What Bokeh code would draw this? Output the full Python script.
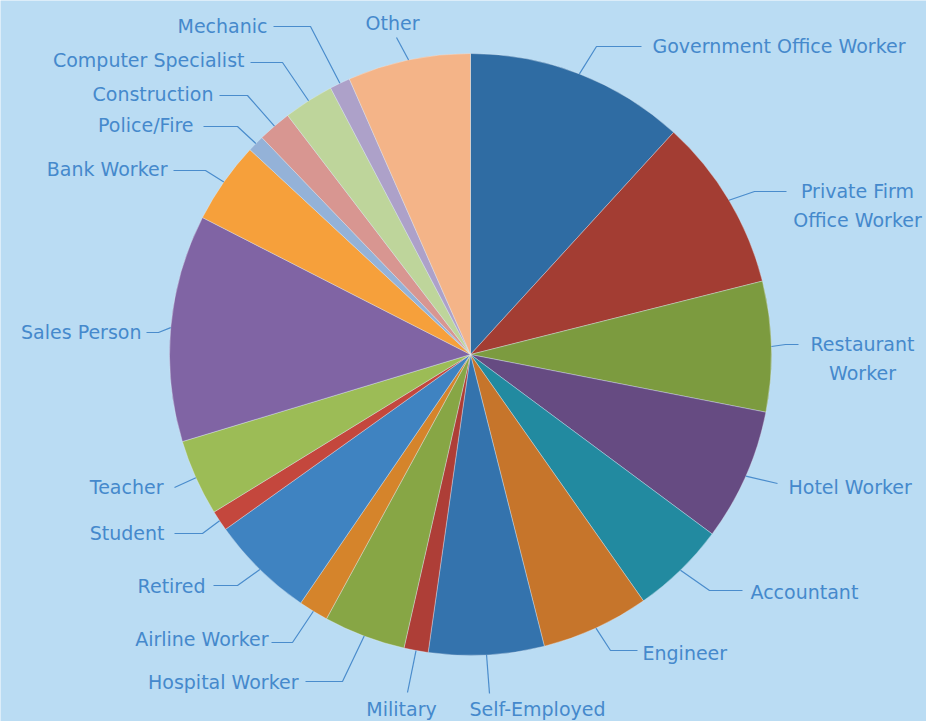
import math
from bokeh.plotting import figure
from bokeh.models import ColumnDataSource
from bokeh.embed import file_html
from bokeh.resources import INLINE
from bokeh.core.properties import value

# ---------------- data (clockwise from 12 o'clock) ----------------
categories = [
    "Government Office Worker", "Private Firm\nOffice Worker", "Restaurant\nWorker",
    "Hotel Worker", "Accountant", "Engineer", "Self-Employed", "Military",
    "Hospital Worker", "Airline Worker", "Retired", "Student", "Teacher",
    "Sales Person", "Bank Worker", "Police/Fire", "Construction",
    "Computer Specialist", "Mechanic", "Other",
]
shares = [11.8, 9.3, 7.0, 7.1, 5.1, 5.8, 6.2, 1.3, 4.4, 1.6,
          5.6, 1.1, 4.1, 12.2, 4.4, 0.9, 1.8, 2.7, 1.1, 6.6]
colors = [
    "#2f6ca3", "#a33d33", "#7c9b3f", "#664b82", "#228aa0", "#c6752b",
    "#3473ad", "#ae3e37", "#87a645", "#d5842b", "#3f83c1", "#c4473d",
    "#9cbc56", "#8064a4", "#f6a03b", "#94b2d8", "#d89691", "#bed59b",
    "#ada1c9", "#f4b488",
]

# ---------------- layout (picture pixel coordinates) ----------------
BG = "#badcf3"
TXT = "#4589cc"
LEADER = "#4a8ccc"
FONT = "DejaVu Sans"
FS = "19px"
LINE_STEP = 29
W, H = 926, 721
CX, CY, R = 470, 354, 301

leader_elbow = [(596, 46), (754, 191), (785, 344), (777, 483), (709, 590), (610, 650),
                (489, 693), (407, 692), (342, 681), (292, 642), (237, 585), (202, 533),
                (174, 487), (158, 332), (205, 170), (237, 126), (247, 95), (282, 62),
                (310, 26), (396, 37)]
leader_end = [(641, 46), (786, 191), (798, 344), (777, 483), (742, 590), (637, 650),
              (489, 693), (407, 692), (305, 681), (271, 642), (213, 585), (174, 533),
              (174, 487), (146, 332), (173, 170), (203, 126), (219, 95), (250, 62),
              (273, 26), (396, 37)]
label_pos = [(652, 45), (857, 205), (862, 358), (788, 486), (750, 591), (642, 652),
             (537, 708), (401, 708), (298, 681), (268, 638), (205, 585), (164, 532),
             (163, 486), (141, 331), (167, 168), (193, 124), (213, 93), (244, 59),
             (267, 25), (392, 22)]
label_align = ["left", "center", "center", "left", "left", "left",
               "center", "center", "right", "right", "right", "right",
               "right", "right", "right", "right", "right", "right",
               "right", "center"]


def Y(py):
    return H - py


p = figure(width=W, height=H, x_range=(0, W), y_range=(0, H),
           output_backend="svg", toolbar_location=None, min_border=0)
p.axis.visible = False
p.grid.visible = False
p.background_fill_color = BG
p.border_fill_color = BG
p.outline_line_color = None

# wedge angles
total = float(sum(shares))
starts, ends, mids = [], [], []
cum = 0.0
for s in shares:
    a0 = math.pi / 2 - 2 * math.pi * cum / total
    cum += s
    a1 = math.pi / 2 - 2 * math.pi * cum / total
    starts.append(a0)
    ends.append(a1)
    mids.append((a0 + a1) / 2)

src = ColumnDataSource(dict(start=starts, end=ends, color=colors, cat=categories))
p.wedge(x=CX, y=Y(CY), radius=R, radius_units="screen",
        start_angle="start", end_angle="end", direction="clock",
        fill_color="color", line_color="#e8f2fa", line_alpha=0.6, line_width=0.6,
        source=src)

# leader lines
xs, ys = [], []
for m, (ex, ey), (tx, ty) in zip(mids, leader_elbow, leader_end):
    rx = CX + R * math.cos(m)
    ry = Y(CY) + R * math.sin(m)
    xs.append([rx, ex, tx])
    ys.append([ry, Y(ey), Y(ty)])
p.multi_line(xs=xs, ys=ys, line_color=LEADER, line_width=1.2)

# labels (multi-line labels split into separate rows)
for al in ("left", "center", "right"):
    lx, ly, lt = [], [], []
    for i, a in enumerate(label_align):
        if a != al:
            continue
        rows = categories[i].split("\n")
        n = len(rows)
        for k, row in enumerate(rows):
            lx.append(label_pos[i][0])
            ly.append(Y(label_pos[i][1] + (k - (n - 1) / 2) * LINE_STEP))
            lt.append(row)
    p.text(x=lx, y=ly, text=lt, text_align=al, text_baseline="middle",
           text_color=TXT, text_font=value(FONT), text_font_size=FS)

open("out.html", "w").write(file_html(p, INLINE))
